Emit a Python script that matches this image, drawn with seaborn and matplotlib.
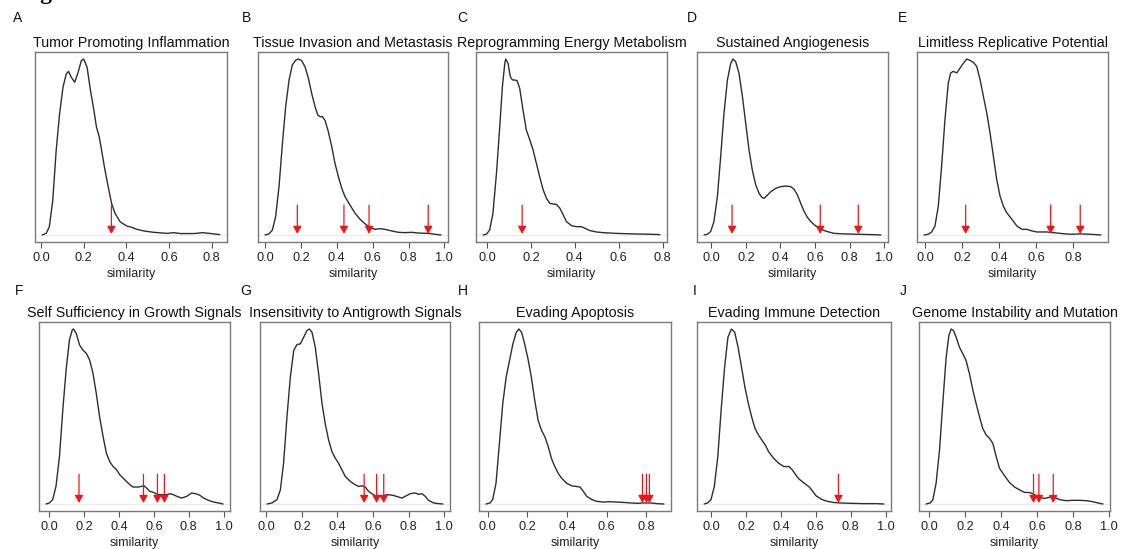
import matplotlib
matplotlib.use("Agg")
import matplotlib.pyplot as plt
import seaborn as sns
from matplotlib.ticker import MultipleLocator, FormatStrFormatter

# ---------------- data (density curves, peak = 1) -------------
A_x = [0.005,0.024,0.039,0.055,0.071,0.087,0.103,0.118,0.129,0.142,0.158,0.174,0.189,0.200,0.216,0.232,0.248,0.260,0.273,0.284,0.300,0.315,0.331,0.347,0.371,0.402,0.426,0.450,0.481,0.528,0.591,0.623,0.655,0.718,0.757,0.797,0.839]
A_y = [0.0,0.009,0.047,0.198,0.481,0.689,0.840,0.915,0.930,0.896,0.868,0.925,0.991,1.0,0.953,0.821,0.708,0.613,0.557,0.481,0.368,0.274,0.179,0.123,0.075,0.051,0.043,0.032,0.023,0.015,0.009,0.013,0.008,0.008,0.013,0.008,0.002]

B_x = [0.0,0.022,0.041,0.059,0.078,0.097,0.115,0.134,0.152,0.171,0.186,0.204,0.223,0.242,0.260,0.279,0.294,0.307,0.320,0.335,0.353,0.372,0.390,0.409,0.428,0.446,0.474,0.502,0.530,0.558,0.586,0.613,0.641,0.669,0.706,0.743,0.781,0.818,0.855,0.911,0.948,0.981]
B_y = [0.0,0.006,0.028,0.104,0.275,0.521,0.729,0.881,0.966,0.994,1.0,0.991,0.956,0.890,0.805,0.729,0.682,0.672,0.672,0.650,0.587,0.502,0.407,0.331,0.265,0.218,0.170,0.123,0.089,0.063,0.042,0.032,0.036,0.032,0.023,0.015,0.013,0.015,0.011,0.009,0.004,0.0]

C_x = [-0.018,-0.003,0.012,0.027,0.043,0.058,0.070,0.081,0.085,0.096,0.106,0.116,0.126,0.137,0.149,0.164,0.179,0.195,0.210,0.225,0.240,0.256,0.271,0.286,0.301,0.316,0.332,0.347,0.362,0.385,0.408,0.430,0.446,0.468,0.499,0.529,0.560,0.590,0.666,0.742,0.788]
C_y = [0.0,0.004,0.028,0.123,0.350,0.616,0.843,0.975,1.0,0.975,0.900,0.881,0.881,0.877,0.833,0.710,0.597,0.540,0.483,0.407,0.331,0.256,0.208,0.180,0.176,0.174,0.152,0.114,0.076,0.053,0.047,0.047,0.038,0.025,0.017,0.013,0.011,0.009,0.006,0.004,0.002]

D_x = [-0.042,-0.023,-0.004,0.015,0.035,0.054,0.073,0.093,0.112,0.125,0.141,0.160,0.180,0.199,0.218,0.237,0.257,0.276,0.292,0.305,0.320,0.344,0.373,0.402,0.431,0.459,0.479,0.498,0.517,0.537,0.556,0.575,0.604,0.633,0.672,0.710,0.768,0.846,0.923,0.981]
D_y = [0.0,0.004,0.019,0.076,0.218,0.445,0.691,0.881,0.975,1.0,0.985,0.919,0.786,0.634,0.483,0.369,0.284,0.237,0.214,0.208,0.222,0.246,0.265,0.275,0.278,0.275,0.259,0.227,0.180,0.133,0.100,0.076,0.051,0.032,0.019,0.009,0.006,0.004,0.002,0.0]

E_x = [-0.005,0.018,0.036,0.054,0.072,0.090,0.108,0.126,0.139,0.153,0.172,0.190,0.208,0.226,0.244,0.262,0.280,0.298,0.316,0.334,0.352,0.370,0.388,0.406,0.424,0.442,0.470,0.497,0.524,0.551,0.578,0.605,0.659,0.695,0.731,0.786,0.840,0.894,0.952]
E_y = [0.0,0.004,0.017,0.051,0.164,0.391,0.656,0.864,0.921,0.930,0.921,0.949,0.977,1.0,0.992,0.981,0.958,0.883,0.788,0.694,0.580,0.448,0.316,0.221,0.164,0.127,0.089,0.051,0.032,0.032,0.023,0.017,0.017,0.013,0.009,0.004,0.006,0.004,0.0]

F_x = [-0.019,0.0,0.019,0.038,0.058,0.077,0.096,0.115,0.131,0.138,0.154,0.173,0.192,0.212,0.231,0.250,0.269,0.288,0.308,0.327,0.346,0.365,0.385,0.404,0.423,0.442,0.462,0.481,0.510,0.529,0.542,0.558,0.577,0.596,0.615,0.635,0.654,0.673,0.692,0.712,0.731,0.760,0.788,0.817,0.846,0.865,0.885,0.913,0.942,0.971,0.996]
F_y = [0.0,0.006,0.025,0.101,0.272,0.538,0.766,0.937,0.994,1.0,0.975,0.909,0.880,0.861,0.823,0.747,0.633,0.500,0.386,0.291,0.243,0.215,0.196,0.167,0.148,0.129,0.110,0.097,0.097,0.101,0.105,0.091,0.072,0.067,0.057,0.053,0.053,0.053,0.059,0.053,0.044,0.034,0.044,0.063,0.057,0.049,0.034,0.021,0.011,0.006,0.0]

G_x = [0.004,0.032,0.060,0.079,0.097,0.116,0.135,0.154,0.172,0.191,0.210,0.228,0.242,0.257,0.275,0.294,0.313,0.331,0.350,0.369,0.388,0.406,0.425,0.444,0.472,0.500,0.519,0.537,0.556,0.575,0.594,0.612,0.631,0.650,0.669,0.687,0.715,0.743,0.762,0.781,0.809,0.837,0.856,0.875,0.893,0.912,0.940,0.968,0.993]
G_y = [0.0,0.006,0.025,0.081,0.233,0.498,0.725,0.877,0.911,0.915,0.953,0.991,1.0,0.981,0.896,0.744,0.574,0.460,0.366,0.299,0.261,0.233,0.195,0.157,0.129,0.110,0.100,0.104,0.097,0.072,0.059,0.047,0.044,0.044,0.051,0.053,0.049,0.040,0.034,0.044,0.059,0.063,0.055,0.059,0.044,0.021,0.006,0.002,0.0]

H_x = [-0.008,0.012,0.025,0.042,0.059,0.076,0.093,0.110,0.127,0.144,0.157,0.171,0.186,0.203,0.220,0.237,0.254,0.271,0.288,0.305,0.321,0.338,0.355,0.372,0.398,0.423,0.448,0.465,0.482,0.499,0.525,0.550,0.584,0.618,0.651,0.685,0.719,0.753,0.787,0.821,0.854,0.888]
H_y = [0.0,0.006,0.025,0.119,0.347,0.574,0.725,0.820,0.915,0.981,1.0,0.981,0.915,0.830,0.725,0.593,0.479,0.422,0.384,0.328,0.261,0.214,0.176,0.148,0.119,0.104,0.100,0.097,0.072,0.044,0.025,0.015,0.011,0.013,0.011,0.009,0.006,0.004,0.006,0.006,0.002,0.0]

I_x = [-0.039,-0.019,0.0,0.019,0.039,0.058,0.078,0.097,0.117,0.136,0.155,0.175,0.194,0.214,0.233,0.252,0.272,0.291,0.311,0.330,0.359,0.388,0.417,0.447,0.466,0.485,0.505,0.534,0.563,0.583,0.602,0.631,0.660,0.699,0.738,0.796,0.874,0.951,0.990]
I_y = [0.0,0.006,0.025,0.100,0.271,0.536,0.782,0.953,1.0,0.981,0.896,0.782,0.669,0.574,0.498,0.432,0.394,0.366,0.337,0.299,0.261,0.233,0.214,0.214,0.195,0.167,0.142,0.119,0.097,0.072,0.047,0.028,0.017,0.009,0.006,0.004,0.002,0.002,0.0]

J_x = [-0.019,0.004,0.019,0.037,0.056,0.074,0.093,0.108,0.121,0.134,0.149,0.167,0.186,0.204,0.223,0.242,0.260,0.279,0.297,0.316,0.335,0.353,0.372,0.390,0.409,0.428,0.446,0.474,0.502,0.530,0.548,0.567,0.586,0.604,0.623,0.641,0.660,0.678,0.697,0.725,0.762,0.799,0.836,0.874,0.911,0.939,0.967]
J_y = [0.0,0.006,0.025,0.119,0.309,0.574,0.839,0.962,1.0,0.991,0.953,0.896,0.858,0.820,0.744,0.650,0.574,0.498,0.432,0.394,0.375,0.347,0.271,0.205,0.176,0.148,0.123,0.097,0.081,0.066,0.066,0.063,0.053,0.038,0.036,0.032,0.036,0.042,0.038,0.025,0.019,0.021,0.021,0.019,0.013,0.006,0.0]

# similarity values marked with red arrows
A_arrows = [0.33]
B_arrows = [0.18, 0.44, 0.58, 0.91]
C_arrows = [0.16]
D_arrows = [0.12, 0.63, 0.85]
E_arrows = [0.22, 0.68, 0.84]
F_arrows = [0.17, 0.54, 0.62, 0.66]
G_arrows = [0.55, 0.62, 0.66]
H_arrows = [0.78, 0.80, 0.815]
I_arrows = [0.73]
J_arrows = [0.58, 0.61, 0.69]

letters = ["A", "B", "C", "D", "E", "F", "G", "H", "I", "J"]
titles = ["Tumor Promoting Inflammation", "Tissue Invasion and Metastasis",
          "Reprogramming Energy Metabolism", "Sustained Angiogenesis",
          "Limitless Replicative Potential", "Self Sufficiency in Growth Signals",
          "Insensitivity to Antigrowth Signals", "Evading Apoptosis",
          "Evading Immune Detection", "Genome Instability and Mutation"]
xlabel = "similarity"

curves = [(A_x, A_y), (B_x, B_y), (C_x, C_y), (D_x, D_y), (E_x, E_y),
          (F_x, F_y), (G_x, G_y), (H_x, H_y), (I_x, I_y), (J_x, J_y)]
arrows = [A_arrows, B_arrows, C_arrows, D_arrows, E_arrows,
          F_arrows, G_arrows, H_arrows, I_arrows, J_arrows]

# ---------------- layout (pixels) ----------------
W, H = 1126, 549
boxes = [(35, 52, 227, 242), (258, 52, 448, 242), (476, 52, 667, 242),
         (697, 52, 888, 242), (917, 52, 1108, 242),
         (39, 322, 230, 511), (260, 322, 450, 511), (479, 322, 671, 511),
         (697, 322, 891, 511), (919, 322, 1110, 511)]
letter_pos = [(13, 22), (242, 22), (457, 22), (687, 22), (898, 22),
              (15, 295), (240, 295), (458, 295), (693, 295), (900, 295)]
ARROW_TOP = 0.17
ARROW_TIP = 0.006

sns.set_theme(style="white")
plt.rcParams["font.family"] = ["Liberation Sans", "DejaVu Sans"]

fig = plt.figure(figsize=(W / 100, H / 100), dpi=100)
fig.patch.set_facecolor("white")

# figure heading, cut off by the top edge as in the reference
fig.text(19 / W, 1 + 1.0 / H, "Figure 1", family=["Liberation Serif", "DejaVu Serif"],
         fontweight="bold", fontsize=17, va="baseline", ha="left", color="black")

for i in range(10):
    l, t, r, b = boxes[i]
    ax = fig.add_axes([l / W, 1 - b / H, (r - l) / W, (b - t) / H])
    xs, ys = curves[i]
    ax.axhline(0, color="#ececec", lw=0.8, zorder=0)
    sns.lineplot(x=xs, y=ys, ax=ax, color="#2e2e2e", lw=1.0, sort=False,
                 estimator=None)
    lo, hi = min(xs), max(xs)
    pad = 0.04 * (hi - lo)
    ax.set_xlim(lo - pad, hi + pad)
    ax.set_ylim(-0.04, 1.04)
    for xa in arrows[i]:
        ax.annotate("", xy=(xa, ARROW_TIP), xytext=(xa, ARROW_TOP),
                    arrowprops=dict(arrowstyle="-|>,head_length=0.45,head_width=0.25",
                                    color="#f01515", lw=0.9, shrinkA=0, shrinkB=0,
                                    mutation_scale=10))
    ax.xaxis.set_major_locator(MultipleLocator(0.2))
    ax.xaxis.set_major_formatter(FormatStrFormatter("%.1f"))
    ax.set_yticks([])
    ax.tick_params(axis="x", bottom=True, length=4, width=0.8, color="#555555",
                   pad=3.5, labelsize=9.2, labelcolor="#222222", direction="out")
    for s in ax.spines.values():
        s.set_visible(True)
        s.set_color("#7a7a7a")
        s.set_linewidth(1.0)
    ax.set_xlabel(xlabel, fontsize=9, labelpad=2.5, color="#222222")
    ax.set_ylabel("")
    ax.set_title(titles[i], fontsize=10.3, pad=3.5, color="#111111")
    lx, ly = letter_pos[i]
    fig.text(lx / W, 1 - ly / H, letters[i], fontsize=10, va="baseline",
             ha="left", color="#111111")

fig.savefig("out.png", dpi=100)
